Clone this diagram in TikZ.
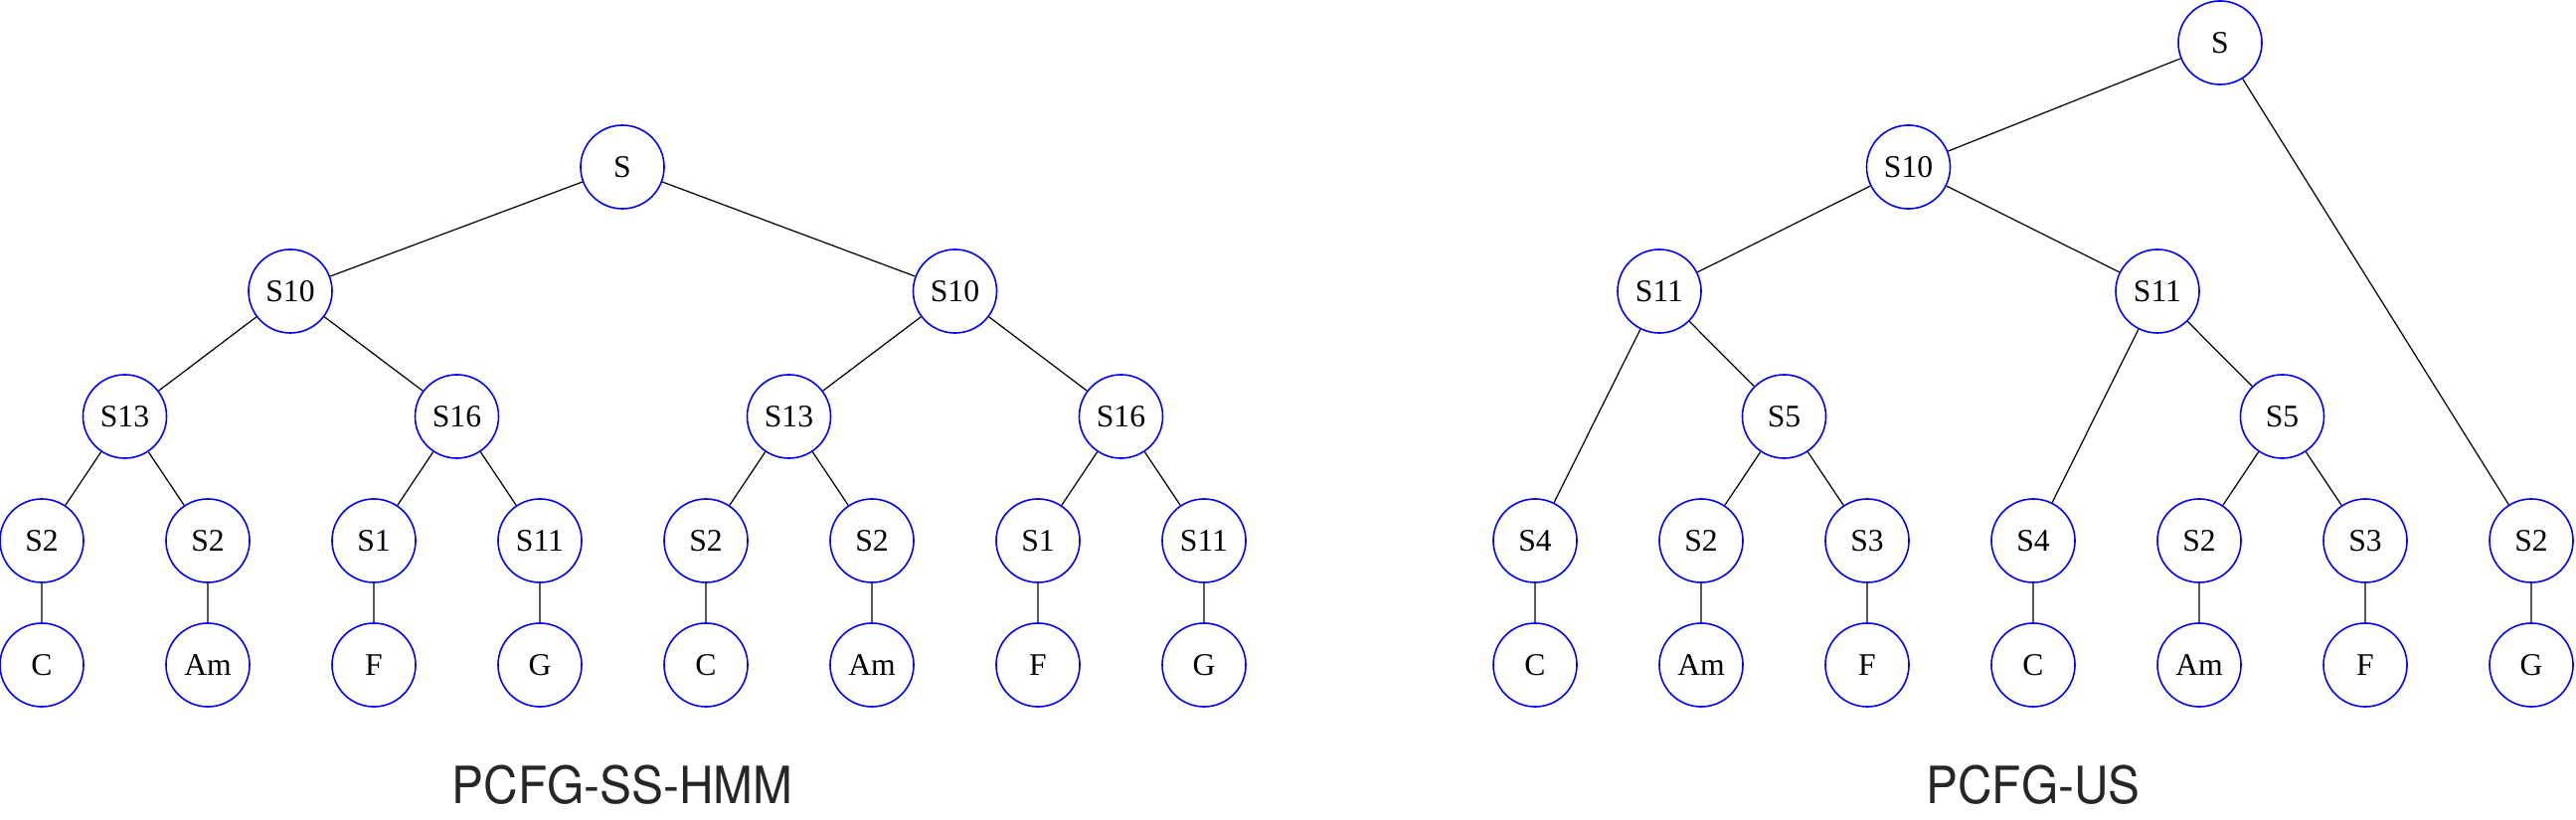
\documentclass[tikz,border=0pt]{standalone}
\usepackage{fontspec}
\setmainfont{Liberation Serif}
\newfontfamily\labfont{TeX Gyre Heros}
\definecolor{nodeblue}{RGB}{0,0,255}
\definecolor{labgray}{RGB}{38,38,38}
\tikzset{
  px/.style={x=0.01cm,y=-0.01cm},
  tn/.style={circle,draw=nodeblue,line width=0.45pt,minimum size=0.84cm,inner sep=0pt,font=\fontsize{9}{10}\selectfont,text=black},
  edge/.style={draw=black,line width=0.35pt},
  capnode/.style={font=\labfont\fontsize{14.7}{16}\selectfont,text=labgray,inner sep=0pt}
}
\begin{document}
\begin{tikzpicture}[px]
\useasboundingbox (0,0) rectangle (2591,825);
% ---------- left tree ----------
\node[tn] (LS) at (626,168) {S};
\node[tn] (La) at (292,293) {S10};
\node[tn] (Lb) at (960.5,293) {S10};
\node[tn] (Laa) at (125.5,419) {S13};
\node[tn] (Lab) at (459.5,419) {S16};
\node[tn] (Lba) at (793.5,419) {S13};
\node[tn] (Lbb) at (1127.5,419) {S16};
\node[tn] (L1) at (42,544) {S2};
\node[tn] (L2) at (209,544) {S2};
\node[tn] (L3) at (376,544) {S1};
\node[tn] (L4) at (543,544) {S11};
\node[tn] (L5) at (710,544) {S2};
\node[tn] (L6) at (877,544) {S2};
\node[tn] (L7) at (1044,544) {S1};
\node[tn] (L8) at (1211,544) {S11};
\node[tn] (T1) at (42,669) {C};
\node[tn] (T2) at (209,669) {Am};
\node[tn] (T3) at (376,669) {F};
\node[tn] (T4) at (543,669) {G};
\node[tn] (T5) at (710,669) {C};
\node[tn] (T6) at (877,669) {Am};
\node[tn] (T7) at (1044,669) {F};
\node[tn] (T8) at (1211,669) {G};
\path[edge] (LS) -- (La) (LS) -- (Lb)
  (La) -- (Laa) (La) -- (Lab) (Lb) -- (Lba) (Lb) -- (Lbb)
  (Laa) -- (L1) (Laa) -- (L2) (Lab) -- (L3) (Lab) -- (L4)
  (Lba) -- (L5) (Lba) -- (L6) (Lbb) -- (L7) (Lbb) -- (L8)
  (L1) -- (T1) (L2) -- (T2) (L3) -- (T3) (L4) -- (T4)
  (L5) -- (T5) (L6) -- (T6) (L7) -- (T7) (L8) -- (T8);
% ---------- right tree ----------
\node[tn] (RS) at (2233,43) {S};
\node[tn] (Ra) at (1919.5,168) {S10};
\node[tn] (Raa) at (1669,293) {S11};
\node[tn] (Rab) at (2170,293) {S11};
\node[tn] (Rx) at (1794.5,419) {S5};
\node[tn] (Ry) at (2295.5,419) {S5};
\node[tn] (R1) at (1544,544) {S4};
\node[tn] (R2) at (1711,544) {S2};
\node[tn] (R3) at (1878,544) {S3};
\node[tn] (R4) at (2045,544) {S4};
\node[tn] (R5) at (2212,544) {S2};
\node[tn] (R6) at (2379,544) {S3};
\node[tn] (R7) at (2546,544) {S2};
\node[tn] (U1) at (1544,669) {C};
\node[tn] (U2) at (1711,669) {Am};
\node[tn] (U3) at (1878,669) {F};
\node[tn] (U4) at (2045,669) {C};
\node[tn] (U5) at (2212,669) {Am};
\node[tn] (U6) at (2379,669) {F};
\node[tn] (U7) at (2546,669) {G};
\path[edge] (RS) -- (Ra) (RS) -- (R7)
  (Ra) -- (Raa) (Ra) -- (Rab)
  (Raa) -- (R1) (Raa) -- (Rx) (Rab) -- (R4) (Rab) -- (Ry)
  (Rx) -- (R2) (Rx) -- (R3) (Ry) -- (R5) (Ry) -- (R6)
  (R1) -- (U1) (R2) -- (U2) (R3) -- (U3) (R4) -- (U4)
  (R5) -- (U5) (R6) -- (U6) (R7) -- (U7);
% ---------- captions ----------
\node[capnode,anchor=base] (capL) at (626,808) {\scalebox{0.925}[1]{PCFG-SS-HMM}};
\node[capnode,anchor=base] (capR) at (2045,808) {\scalebox{0.925}[1]{PCFG-US}};
\end{tikzpicture}
\end{document}
